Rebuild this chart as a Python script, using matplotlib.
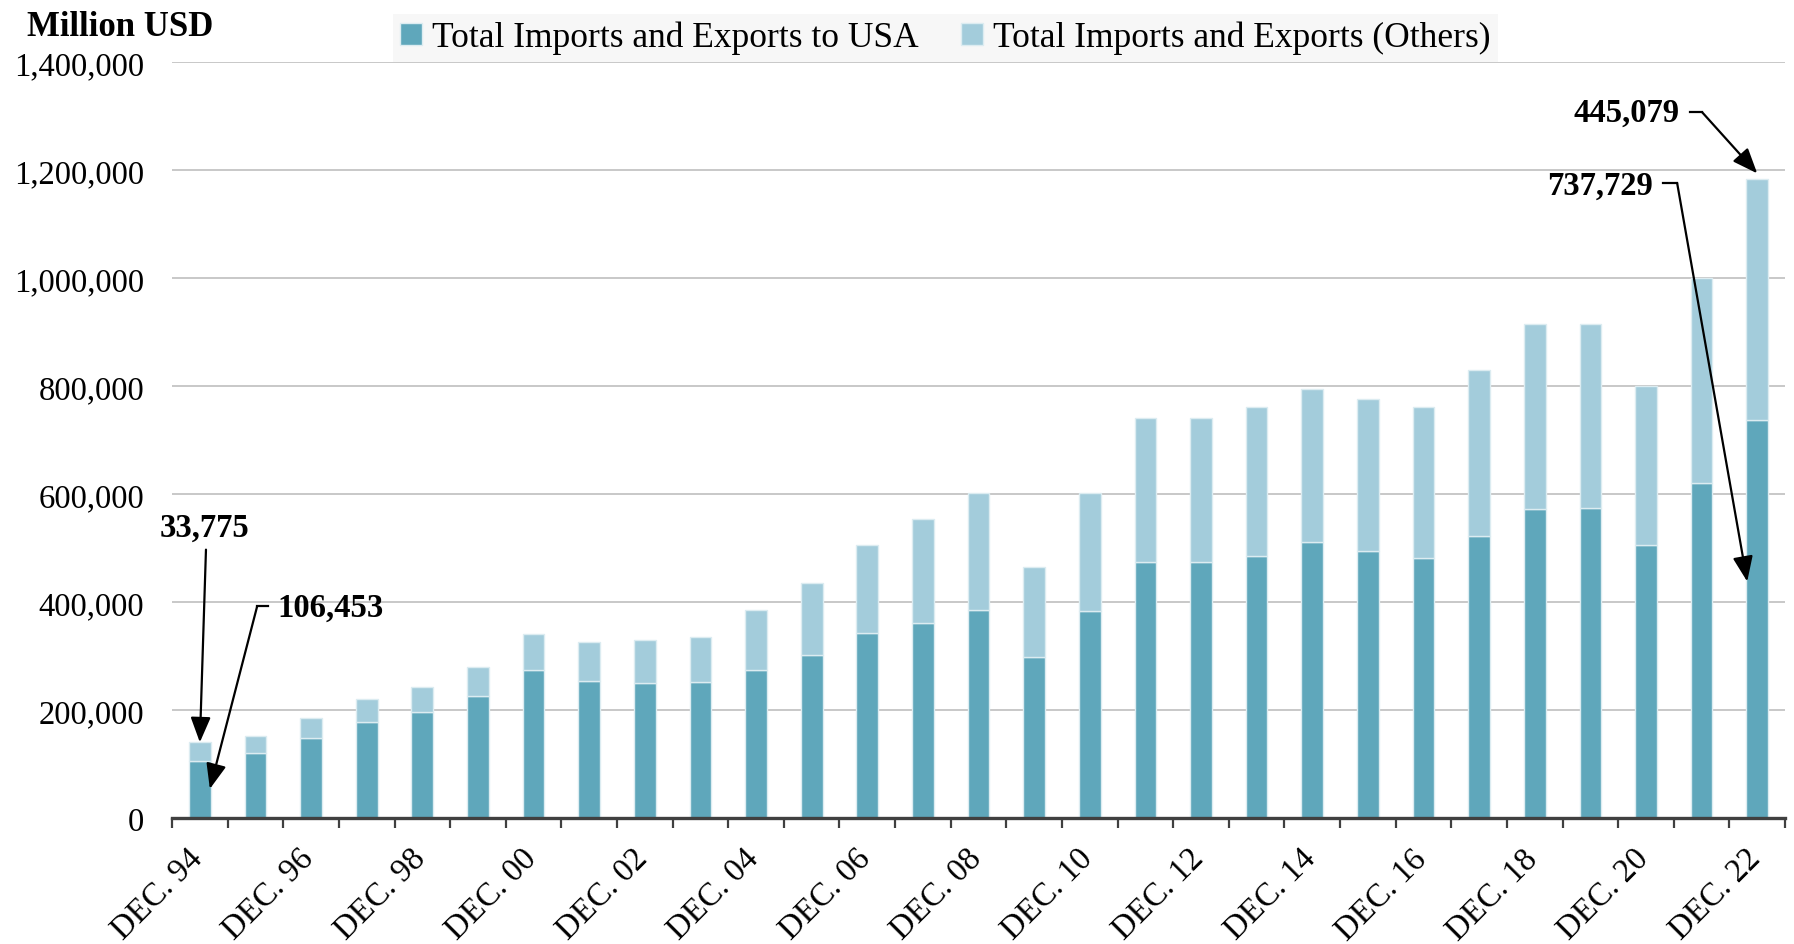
import numpy as np
import matplotlib
matplotlib.use("Agg")
import matplotlib.pyplot as plt
import matplotlib.transforms as mtransforms
from matplotlib.ticker import FuncFormatter, FixedLocator

# data (million USD), Dec 1994 .. Dec 2022
years = list(range(1994, 2023))
usa = [106453, 120500, 148000, 178000, 197000, 226000, 275000, 254000, 250000, 252000,
       275000, 302000, 343000, 362000, 385000, 298000, 383000, 474000, 474000, 486000,
       512000, 495000, 482000, 522000, 573000, 575000, 505000, 620000, 737729]
total = [140228, 152000, 186000, 220000, 243000, 279000, 340000, 326000, 330000, 336000,
         385000, 436000, 505000, 554000, 601000, 465000, 601000, 740000, 740000, 761000,
         795000, 776000, 761000, 829000, 914000, 914000, 800000, 1000000, 1182808]
others = [t - u for t, u in zip(total, usa)]
labels = ["DEC. %02d" % (y % 100) for y in years]

c_usa = "#5fa7bb"
c_oth = "#a3ccdb"

plt.rcParams["font.family"] = ["Liberation Serif", "DejaVu Serif"]

fig = plt.figure(figsize=(17.94, 9.45), dpi=100)
ax = fig.add_axes([0.0959, 0.1333, 0.8991, 0.8])

x = np.arange(len(years))
ax.bar(x, usa, width=0.39, color=c_usa, edgecolor="#dcecf1", linewidth=1,
       label="Total Imports and Exports to USA", zorder=3)
ax.bar(x, others, width=0.39, bottom=usa, color=c_oth, edgecolor="#dcecf1", linewidth=1,
       label="Total Imports and Exports (Others)", zorder=3)

ax.set_xlim(-0.5, len(years) - 0.5)
ax.set_ylim(0, 1400000)
ax.set_yticks(np.arange(0, 1400001, 200000))
ax.yaxis.set_major_formatter(FuncFormatter(lambda v, p: f"{int(v):,}"))
ax.grid(axis="y", color="#c4c4c4", linewidth=1.3, zorder=0)
ax.tick_params(axis="y", length=0, pad=20, labelsize=23.5)

ax.xaxis.set_major_locator(FixedLocator(x[::2]))
ax.set_xticklabels(labels[::2], rotation=45, ha="right", fontsize=23.5)
ax.xaxis.set_minor_locator(FixedLocator(np.arange(-0.5, len(years), 1.0)))
ax.tick_params(axis="x", which="major", length=0, pad=18)
ax.tick_params(axis="x", which="minor", length=7, width=1.6, color="#404040", direction="out")
shift = mtransforms.ScaledTranslation(0.09, 0, fig.dpi_scale_trans)
for t in ax.get_xticklabels():
    t.set_transform(t.get_transform() + shift)

for s in ["top", "right", "left"]:
    ax.spines[s].set_visible(False)
ax.spines["bottom"].set_color("#404040")
ax.spines["bottom"].set_linewidth(2.4)
ax.spines["bottom"].set_zorder(4)

fig.text(0.067, 0.971, "Million USD", fontsize=25, fontweight="bold", ha="center", va="center")

leg = fig.legend(loc="center", bbox_to_anchor=(0.527, 0.959), ncol=2, fontsize=25.5,
                 frameon=True, facecolor="#f7f7f7", edgecolor="none", fancybox=False,
                 handlelength=0.6, handleheight=0.6, handletextpad=0.3,
                 columnspacing=1.2, borderpad=0.2)
leg.get_frame().set_alpha(1)

aprops = dict(arrowstyle="-|>,head_length=0.7,head_width=0.28", color="black",
              lw=1.6, mutation_scale=22, shrinkA=0, shrinkB=0)
fmt = lambda v: f"{v:,}"
afs = 23.5

# 33,775 (others, first bar)
ax.text(0.09, 538000, fmt(others[0]), fontsize=afs, fontweight="bold", ha="center", va="center")
ax.annotate("", xy=(0.0, total[0]), xytext=(0.11, 497000), arrowprops=aprops, zorder=5)

# 106,453 (usa, first bar)
ax.text(1.39, 390000, fmt(usa[0]), fontsize=afs, fontweight="bold", ha="left", va="center")
ax.plot([1.03, 1.23], [392000, 392000], color="black", lw=1.6, zorder=5)
ax.annotate("", xy=(0.18, 54000), xytext=(1.03, 392000), arrowprops=aprops, zorder=5)

# 445,079 (others, last bar)
ax.text(26.61, 1307000, fmt(others[-1]), fontsize=afs, fontweight="bold", ha="right", va="center")
ax.plot([26.79, 27.01], [1307000, 1307000], color="black", lw=1.6, zorder=5, clip_on=False)
ax.annotate("", xy=(28.0, total[-1] + 11000), xytext=(27.01, 1307000), arrowprops=aprops, zorder=5)

# 737,729 (usa, last bar)
ax.text(26.13, 1172000, fmt(usa[-1]), fontsize=afs, fontweight="bold", ha="right", va="center")
ax.plot([26.31, 26.56], [1176000, 1176000], color="black", lw=1.6, zorder=5)
ax.annotate("", xy=(27.82, 438000), xytext=(26.56, 1176000), arrowprops=aprops, zorder=5)

fig.savefig("out.png", dpi=100)
